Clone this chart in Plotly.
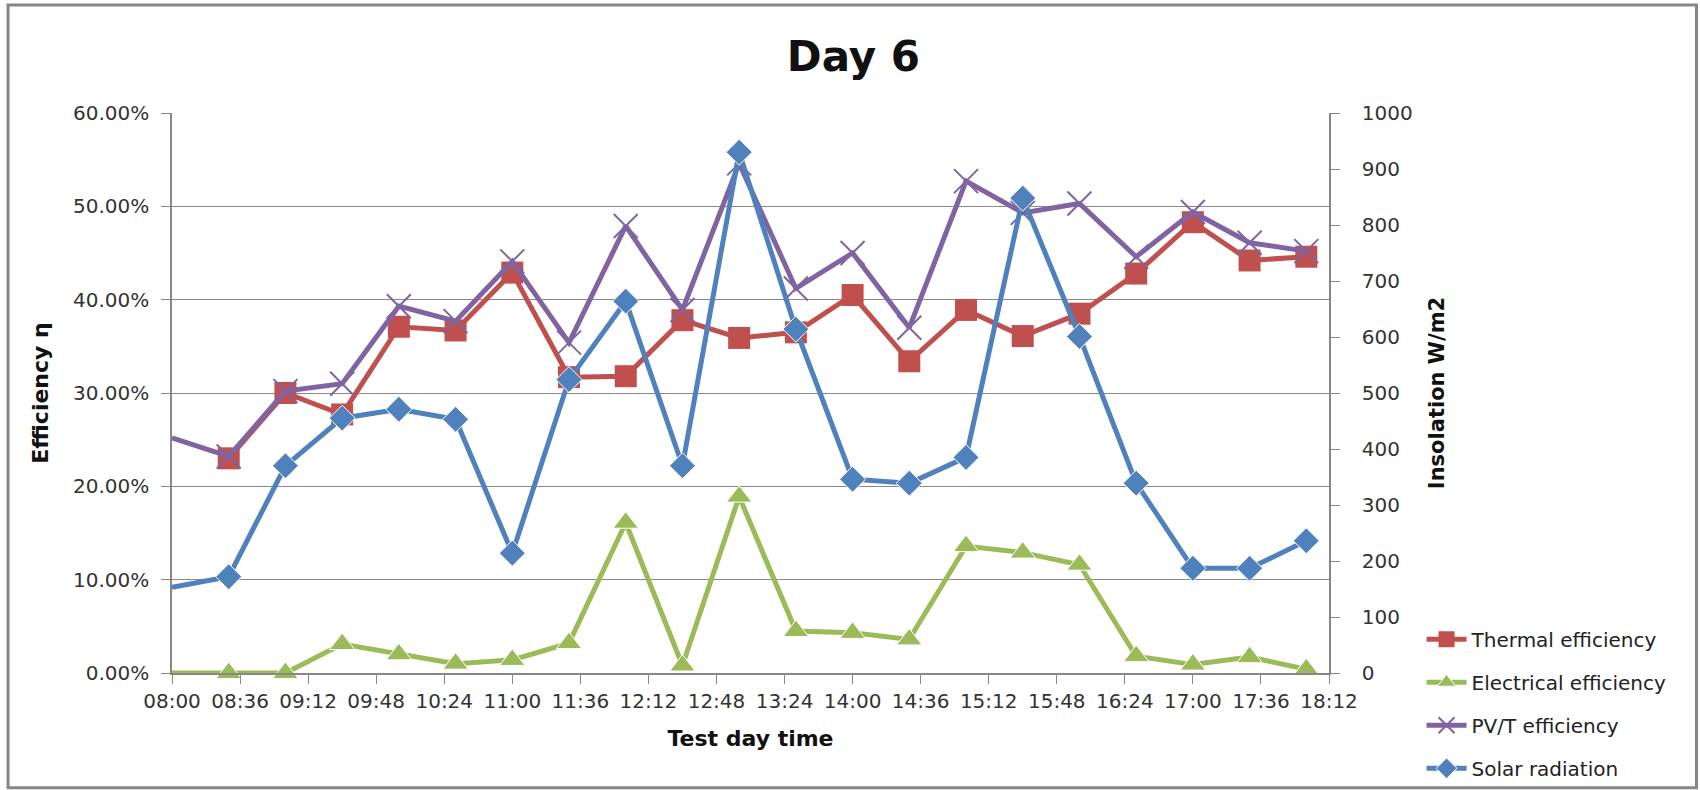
import pandas as pd
import plotly.graph_objects as go

# Measurement times (half-hourly; the 08:00 reading is drawn without a marker)
times = ["08:00", "08:30", "09:00", "09:30", "10:00", "10:30", "11:00", "11:30",
         "12:00", "12:30", "13:00", "13:30", "14:00", "14:30", "15:00", "15:30",
         "16:00", "16:30", "17:00", "17:30", "18:00"]

# Efficiencies in percent
thermal_eff = [None, 23.0, 30.0, 27.7, 37.1, 36.7, 42.9, 31.7, 31.8, 37.8, 35.9,
               36.5, 40.5, 33.4, 38.9, 36.1, 38.5, 42.8, 48.3, 44.2, 44.6]
electrical_eff = [0.0, 0.0, 0.0, 3.1, 2.0, 1.0, 1.4, 3.2, 16.1, 0.8, 18.9,
                  4.5, 4.3, 3.6, 13.6, 12.9, 11.6, 1.8, 0.9, 1.7, 0.4]
pvt_eff = [25.2, 23.2, 30.2, 31.0, 39.3, 37.7, 44.1, 35.4, 47.9, 38.9, 54.6,
           41.2, 45.0, 37.0, 52.7, 49.3, 50.3, 44.6, 49.4, 46.1, 45.2]

# Solar radiation in W/m2
solar_rad = [153, 172, 370, 455, 471, 453, 214, 524, 664, 370, 930,
             614, 346, 339, 385, 848, 601, 339, 187, 187, 236]

# Time-axis tick labels
x_ticks = ["08:00", "08:36", "09:12", "09:48", "10:24", "11:00", "11:36", "12:12",
           "12:48", "13:24", "14:00", "14:36", "15:12", "15:48", "16:24", "17:00",
           "17:36", "18:12"]

DAY = "2000-01-01 "
x = pd.to_datetime([DAY + t for t in times])
tickvals = pd.to_datetime([DAY + t for t in x_ticks])


def frac(vals):
    return [None if v is None else v / 100.0 for v in vals]


def sizes(n, s):
    # no marker on the opening 08:00 reading
    return [0] + [s] * (n - 1)


FONT = "DejaVu Sans"
GRID = "#878787"
LW = 5

fig = go.Figure()

fig.add_trace(go.Scatter(
    x=x, y=frac(thermal_eff), name="Thermal efficiency", mode="lines+markers",
    line=dict(color="#C0504D", width=LW),
    marker=dict(symbol="square", size=22, color="#C0504D", opacity=1),
    legendgroup="a", yaxis="y", cliponaxis=False))

fig.add_trace(go.Scatter(
    x=x, y=frac(electrical_eff), name="Electrical efficiency", mode="lines+markers",
    line=dict(color="#9BBB59", width=LW),
    marker=dict(symbol="triangle-up", size=sizes(len(times), 22), color="#9BBB59",
                opacity=1),
    legendgroup="b", yaxis="y", cliponaxis=False))

fig.add_trace(go.Scatter(
    x=x, y=frac(pvt_eff), name="PV/T efficiency", mode="lines+markers",
    line=dict(color="#8064A2", width=LW),
    marker=dict(symbol="x-thin", size=sizes(len(times), 24), color="#8064A2",
                opacity=1, line=dict(color="#8064A2", width=2)),
    legendgroup="c", yaxis="y", cliponaxis=False))

fig.add_trace(go.Scatter(
    x=x, y=solar_rad, name="Solar radiation", mode="lines+markers",
    line=dict(color="#4F81BD", width=LW),
    marker=dict(symbol="diamond", size=sizes(len(times), 20), color="#4F81BD",
                opacity=1),
    legendgroup="d", yaxis="y2", cliponaxis=False))

fig.update_layout(
    width=1700, height=790,
    margin=dict(l=172, r=371, t=113, b=117, autoexpand=False),
    paper_bgcolor="white", plot_bgcolor="white",
    font=dict(family=FONT, size=20, color="#222222"),
    title=dict(text="<b>Day 6</b>", x=0.502, xref="container", xanchor="center",
               y=0.929, yref="container", yanchor="middle",
               font=dict(family=FONT, size=42, color="#111111")),
    xaxis=dict(
        range=[pd.Timestamp(DAY + "08:00"), pd.Timestamp(DAY + "18:12")],
        tickmode="array", tickvals=tickvals, ticktext=x_ticks,
        showgrid=False, showline=True, linecolor=GRID, linewidth=1.5,
        ticks="outside", ticklen=9, tickcolor=GRID, ticklabelstandoff=0,
        tickfont=dict(size=20, color="#333333"),
        title=dict(text="<b>Test day time</b>", standoff=19,
                   font=dict(size=22, color="#111111"))),
    yaxis=dict(
        range=[0, 0.6], dtick=0.1, tickformat=".2%",
        showgrid=True, gridcolor=GRID, gridwidth=1.2,
        showline=True, linecolor=GRID, linewidth=1.5, zeroline=False,
        ticks="outside", ticklen=9, tickcolor=GRID, ticklabelstandoff=8,
        tickfont=dict(size=20, color="#333333"),
        title=dict(text="<b>Efficiency η</b>", standoff=18,
                   font=dict(size=22, color="#111111"))),
    yaxis2=dict(
        range=[0, 1000], dtick=100, overlaying="y", side="right",
        showgrid=False, showline=True, linecolor=GRID, linewidth=1.5, zeroline=False,
        ticks="outside", ticklen=9, tickcolor=GRID, ticklabelstandoff=18,
        tickfont=dict(size=20, color="#333333"),
        title=dict(text="<b>Insolation W/m2</b>", standoff=18,
                   font=dict(size=21, color="#111111"))),
    legend=dict(
        x=1.080, xanchor="left", y=0.095, yanchor="top",
        bgcolor="rgba(0,0,0,0)", tracegroupgap=14, itemwidth=40,
        font=dict(size=20, color="#222222")),
    shapes=[dict(type="rect", xref="paper", yref="paper",
                 x0=-0.1417, x1=1.3176, y0=-0.205, y1=1.193,
                 line=dict(color="#868686", width=3), layer="below")],
)

fig.write_html("out.html")
